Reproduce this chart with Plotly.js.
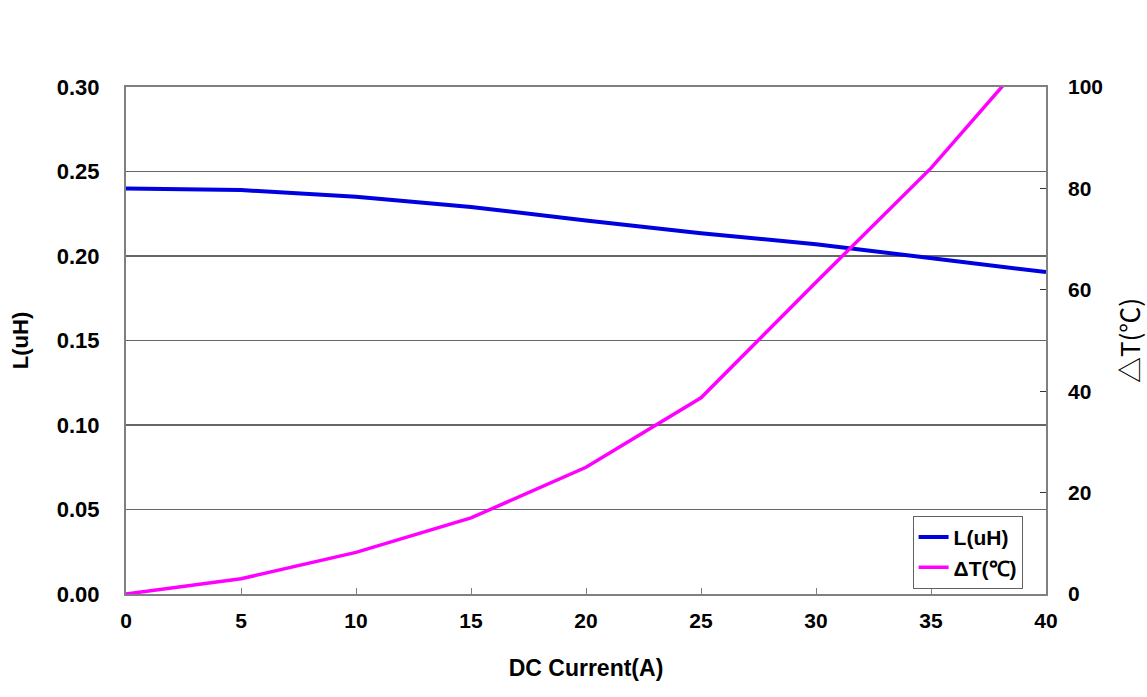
<!DOCTYPE html>
<html>
<head>
<meta charset="utf-8">
<script src="https://cdn.plot.ly/plotly-3.0.1.min.js"></script>
<style>html,body{margin:0;padding:0;background:#fff;}#chart{width:1147px;height:697px;}</style>
</head>
<body>
<div id="chart"></div>
<script>
const current = [0, 5, 10, 15, 20, 25, 30, 35, 40];
const inductance = [0.240, 0.239, 0.235, 0.229, 0.221, 0.2135, 0.207, 0.1988, 0.1905];
const deltaT = [0, 3, 8.2, 15, 25, 38.7, 61.5, 84, 110];
const leftTicks = [0, 0.05, 0.10, 0.15, 0.20, 0.25, 0.30];
const rightTicks = [0, 20, 40, 60, 80, 100];
const xTicks = [0, 5, 10, 15, 20, 25, 30, 35, 40];

const FONT = 'Liberation Sans, Arial, sans-serif';
const GRAY = '#808080';

const traces = [
  {x: current, y: inductance, name: 'L(uH)', type: 'scatter', mode: 'lines',
   line: {color: '#0000e0', width: 4}, yaxis: 'y'},
  {x: current, y: deltaT, name: 'ΔT(℃)', type: 'scatter', mode: 'lines',
   line: {color: '#ff00ff', width: 3.5}, yaxis: 'y2'}
];

const layout = {
  width: 1147, height: 697,
  margin: {l: 126, r: 101, t: 87, b: 103},
  paper_bgcolor: '#ffffff', plot_bgcolor: '#ffffff',
  showlegend: true,
  legend: {x: 0.855, y: 0.154, xanchor: 'left', yanchor: 'top',
    bordercolor: '#606060', borderwidth: 1, bgcolor: '#ffffff',
    font: {family: FONT, size: 21, color: '#000', weight: 'bold'},
    itemwidth: 30, tracegroupgap: 0},
  xaxis: {range: [0, 40], tickvals: xTicks, ticks: 'inside', ticklen: 6, tickcolor: GRAY,
    showline: true, linecolor: GRAY, linewidth: 2, mirror: true, showgrid: false, zeroline: false,
    tickfont: {family: FONT, size: 21, color: '#000', weight: 'bold'}, ticklabelstandoff: 7,
    title: {text: 'DC Current(A)', font: {family: FONT, size: 23, color: '#000', weight: 'bold'}, standoff: 29}},
  yaxis: {range: [0, 0.3], tickvals: leftTicks, tickformat: '.2f', ticks: '',
    showline: true, linecolor: GRAY, linewidth: 2, mirror: true,
    showgrid: true, gridcolor: '#666666', gridwidth: 1.5, zeroline: false,
    tickfont: {family: FONT, size: 22, color: '#000', weight: 'bold'}, ticklabelstandoff: 20,
    title: {text: 'L(uH)', font: {family: FONT, size: 22, color: '#000', weight: 'bold'}, standoff: 22}},
  yaxis2: {range: [0, 100], tickvals: rightTicks, overlaying: 'y', side: 'right',
    ticks: 'inside', ticklen: 6, tickcolor: '#333', showgrid: false, zeroline: false, showline: false,
    tickfont: {family: FONT, size: 21, color: '#000', weight: 'bold'}, ticklabelstandoff: 21,
    title: {text: '△T(℃)', font: {family: 'Noto Sans CJK SC, sans-serif', size: 26, color: '#000'}, standoff: 20}}
};

Plotly.newPlot('chart', traces, layout, {displayModeBar: false, staticPlot: true});
</script>
</body>
</html>
